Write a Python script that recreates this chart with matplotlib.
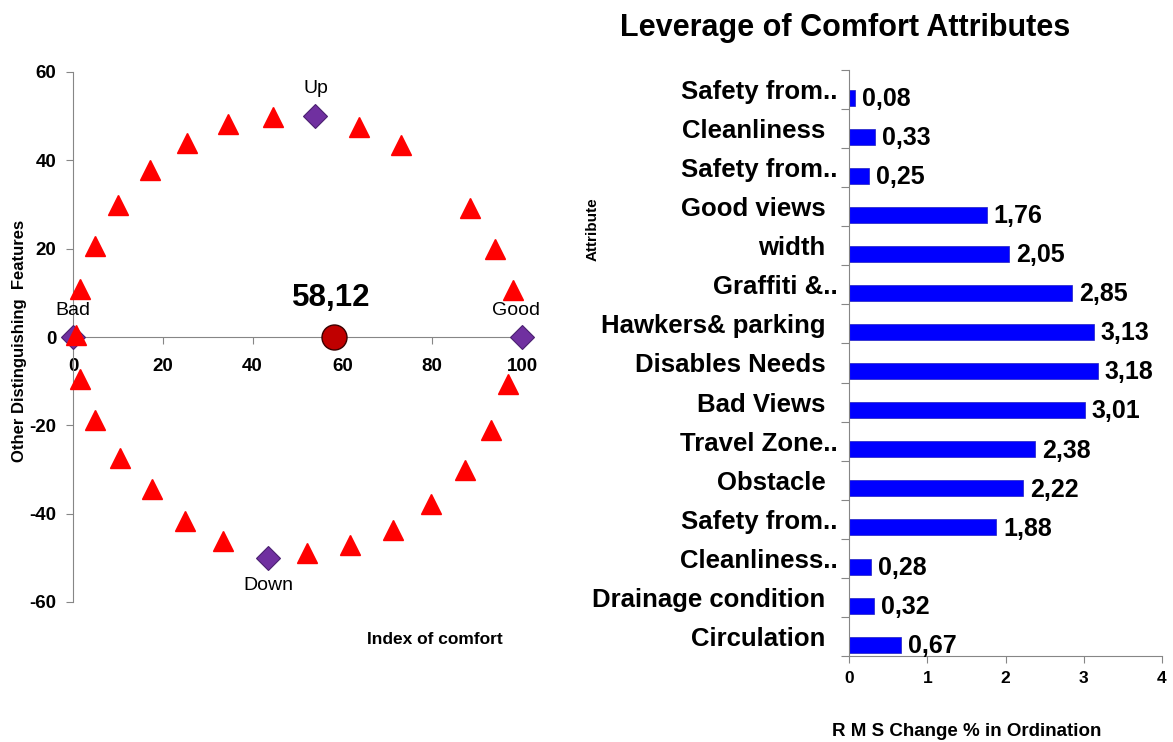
import numpy as np
import matplotlib.pyplot as plt
from matplotlib.transforms import ScaledTranslation

plt.rcParams['font.family'] = ['Liberation Sans', 'DejaVu Sans']
plt.rcParams['axes.unicode_minus'] = False

# --- ordination plot data ---
tri_x = [0.7, 1.5, 5.0, 10.0, 17.2, 25.4, 34.5, 44.5, 63.7, 73.0, 88.5, 94.0, 97.9,
         1.5, 5.0, 10.4, 17.5, 25.0, 33.5, 52.1, 61.8, 71.3, 79.8, 87.3, 93.1, 96.8]
tri_y = [0.5, 10.8, 20.7, 29.8, 37.8, 44.0, 48.3, 49.9, 47.6, 43.5, 29.1, 20.0, 10.6,
         -9.4, -18.8, -27.5, -34.5, -41.6, -46.3, -48.9, -47.0, -43.7, -37.7, -30.0, -21.0, -10.7]
anchor_names = ['Bad', 'Good', 'Up', 'Down']
anchor_x = [0, 100, 54, 43.5]
anchor_y = [0, 0, 50, -50]
index_value = 58.12

# --- leverage data ---
attributes = ['Safety from..', 'Cleanliness', 'Safety from..', 'Good views', 'width',
              'Graffiti &..', 'Hawkers& parking', 'Disables Needs', 'Bad Views',
              'Travel Zone..', 'Obstacle', 'Safety from..', 'Cleanliness..',
              'Drainage condition', 'Circulation']
rms_change = [0.08, 0.33, 0.25, 1.76, 2.05, 2.85, 3.13, 3.18, 3.01, 2.38, 2.22, 1.88,
              0.28, 0.32, 0.67]

fig = plt.figure(figsize=(11.73, 7.42), dpi=100)
grey = '#868686'

# left: ordination
ax = fig.add_axes([73/1173, 1-602/742, 449/1173, 530/742])
ax.plot(tri_x, tri_y, '^', color='#ff0000', ms=15, mec='#ff0000', zorder=4, clip_on=False)
ax.plot(anchor_x, anchor_y, 'D', color='#7030a0', ms=12, mec='#4b2070', mew=0.8,
        zorder=3, clip_on=False)
ax.plot([index_value], [0], 'o', color='#c00000', ms=18, mec='#3a0000', mew=1,
        zorder=5, clip_on=False)
ax.set_xlim(0, 100)
ax.set_ylim(-60, 60)
ax.spines['bottom'].set_position(('data', 0))
for s in ['top', 'right']:
    ax.spines[s].set_visible(False)
for s in ['left', 'bottom']:
    ax.spines[s].set_color(grey)
ax.set_xticks(np.arange(0, 101, 20))
ax.set_yticks(np.arange(-60, 61, 20))
ax.tick_params(colors=grey, length=5, labelcolor='black', labelsize=13.5)
ax.tick_params(axis='x', pad=10)
ax.tick_params(axis='y', pad=7)
for lab in ax.get_xticklabels() + ax.get_yticklabels():
    lab.set_fontweight('bold')

offsets = {'Bad': (0, 13, 'bottom'), 'Good': (-4, 13, 'bottom'),
           'Up': (0, 14, 'bottom'), 'Down': (0, -14, 'top')}
for name, x, y in zip(anchor_names, anchor_x, anchor_y):
    dx, dy, va = offsets[name]
    ax.annotate(name, (x, y), xytext=(dx, dy), textcoords='offset points',
                ha='center', va=va, fontsize=14)
ax.annotate(f'{index_value:.2f}'.replace('.', ','), (index_value, 0), xytext=(-2, 17),
            textcoords='offset points', ha='center', va='bottom',
            fontsize=22.5, fontweight='bold')
fig.text(20/1173, 1-341/742, 'Other Distinguishing  Features', rotation=90,
         ha='center', va='center', fontsize=12, fontweight='bold')
fig.text(435/1173, 1-640/742, 'Index of comfort', ha='center', va='center',
         fontsize=12.5, fontweight='bold')

# right: leverage bars
bx = fig.add_axes([849/1173, 1-656/742, 313/1173, 586/742])
pos = np.arange(len(attributes))
bx.barh(pos + 0.21, rms_change, height=0.41, color='#0000ff', edgecolor='#2020c0', lw=0.5)
for p, v in zip(pos, rms_change):
    bx.text(v + 0.09, p + 0.24, f'{v:.2f}'.replace('.', ','), va='center', ha='left',
            fontsize=18, fontweight='bold')
bx.set_xlim(0, 4)
bx.set_ylim(len(attributes) - 0.5, -0.5)
bx.set_yticks(np.arange(len(attributes) + 1) - 0.5)
bx.set_yticklabels([])
bx.set_yticks(pos, minor=True)
bx.set_yticklabels(attributes, minor=True, fontsize=18.5, fontweight='bold')
bx.tick_params(axis='y', which='minor', length=0, pad=17)
bx.tick_params(axis='y', which='major', length=6, colors=grey)
# truncated labels overhang a little to the right, as in the original
shift = ScaledTranslation(12/100, 0, fig.dpi_scale_trans)
for lab in bx.get_yticklabels(minor=True):
    if lab.get_text().endswith('..'):
        lab.set_transform(lab.get_transform() + shift)
bx.tick_params(axis='x', length=5, colors=grey, labelcolor='black', labelsize=12.5, pad=6)
for lab in bx.get_xticklabels():
    lab.set_fontweight('bold')
for s in ['top', 'right']:
    bx.spines[s].set_visible(False)
for s in ['left', 'bottom']:
    bx.spines[s].set_color(grey)
fig.text(845/1173, 1-28/742, 'Leverage of Comfort Attributes', ha='center', va='center',
         fontsize=22, fontweight='bold')
fig.text(593/1173, 1-229/742, 'Attribute', rotation=90, ha='center', va='center',
         fontsize=11, fontweight='bold')
fig.text(967/1173, 1-732/742, 'R M S Change % in Ordination', ha='center', va='center',
         fontsize=13.5, fontweight='bold')

fig.savefig('out.png', dpi=100)
